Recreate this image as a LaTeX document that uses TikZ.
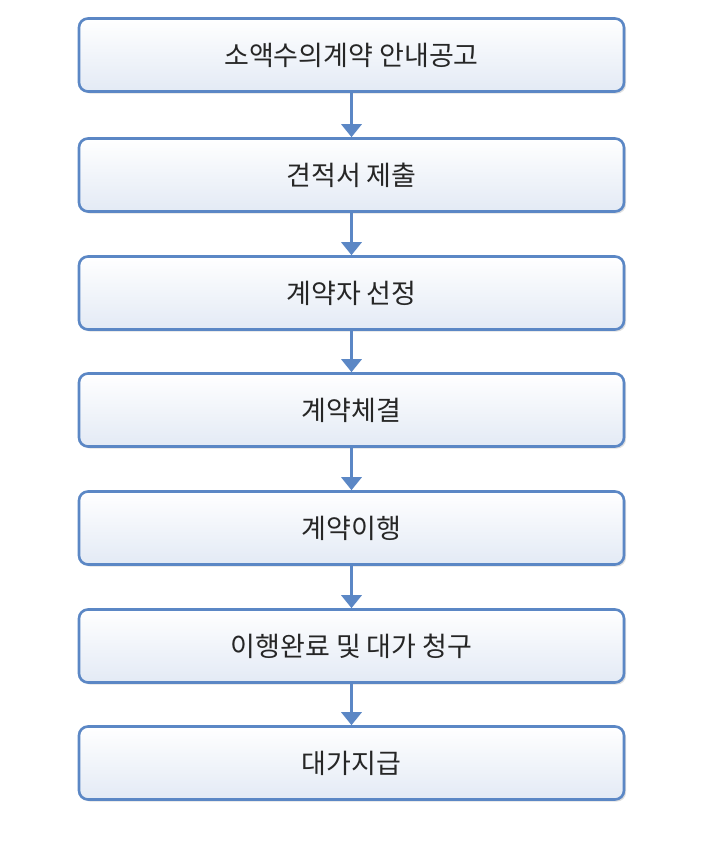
\documentclass[tikz,border=0pt]{standalone}
\usepackage{fontspec}
\setmainfont{Noto Sans CJK KR}
\usetikzlibrary{arrows.meta,shadows}
\definecolor{bord}{HTML}{5B87C5}
\definecolor{fillb}{HTML}{E3EAF5}
\tikzset{
  stepbox/.style={draw=bord,line width=2.6pt,rounded corners=9pt,minimum width=545pt,minimum height=73pt,
    top color=white,bottom color=fillb,font=\fontsize{27pt}{30pt}\selectfont,text=black!85,
    drop shadow={shadow xshift=2pt,shadow yshift=-2pt,fill=black!25,opacity=0.5}},
  arr/.style={draw=bord,line width=3.5pt,-{Triangle[length=13pt,width=20pt]}}
}
\begin{document}
\begin{tikzpicture}[x=1pt,y=-1pt]
\useasboundingbox (0,0) rectangle (706,854);
\node[stepbox] (a) at (351.5,55) {소액수의계약 안내공고};
\node[stepbox] (b) at (351.5,175) {견적서 제출};
\node[stepbox] (c) at (351.5,293) {계약자 선정};
\node[stepbox] (d) at (351.5,410) {계약체결};
\node[stepbox] (e) at (351.5,528) {계약이행};
\node[stepbox] (f) at (351.5,646) {이행완료 및 대가 청구};
\node[stepbox] (g) at (351.5,763) {대가지급};
\foreach \u/\v in {a/b,b/c,c/d,d/e,e/f,f/g}
  \draw[arr] (\u.south) -- (\v.north);
\end{tikzpicture}
\end{document}
